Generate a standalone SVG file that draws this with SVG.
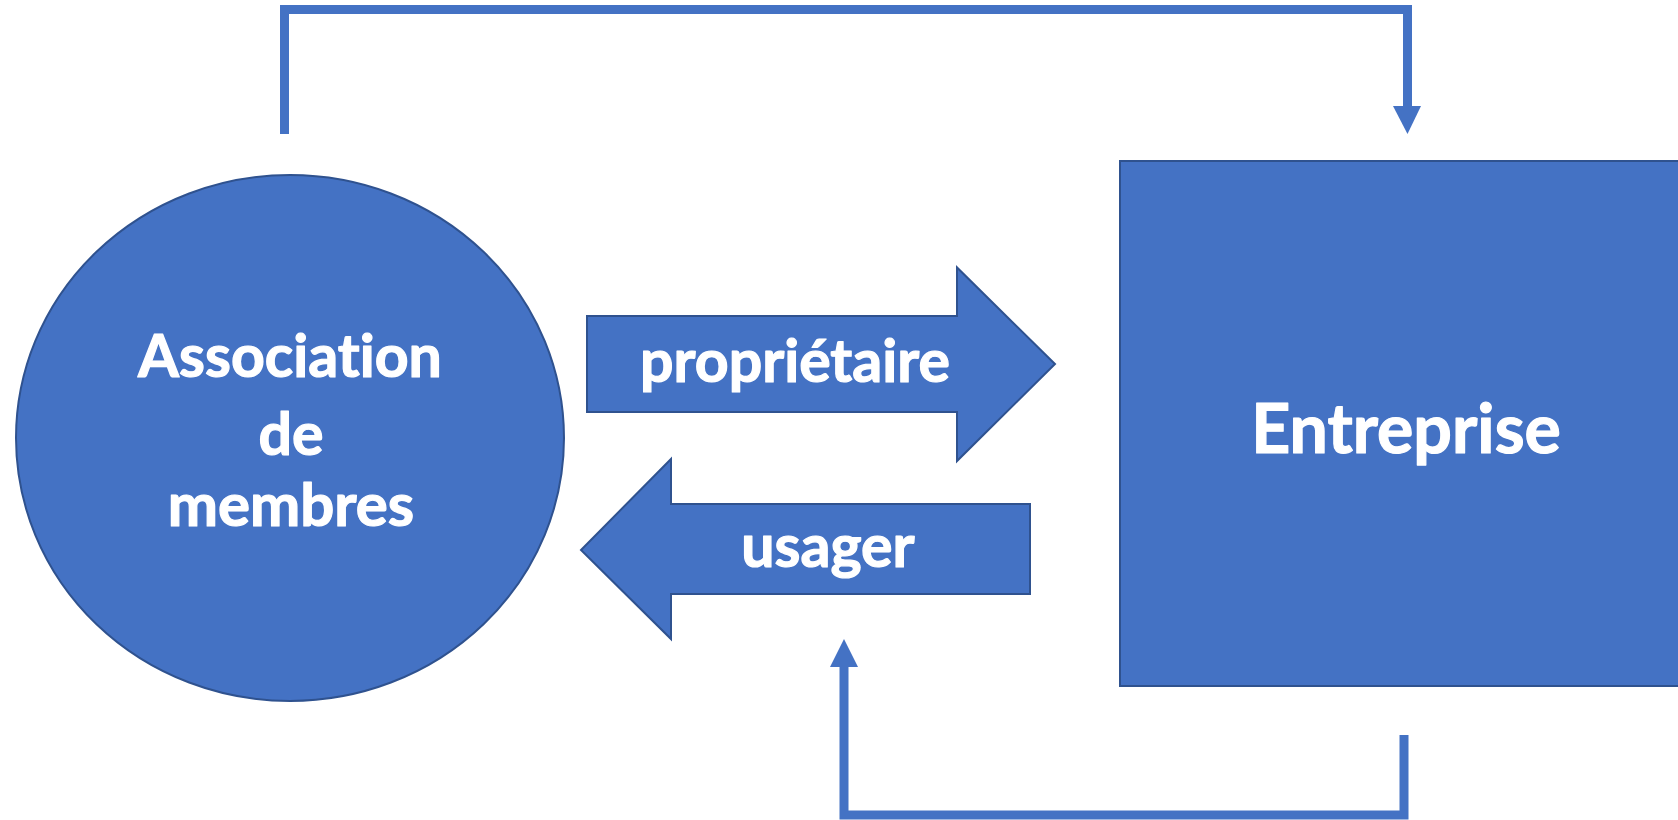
<svg xmlns="http://www.w3.org/2000/svg" width="1678" height="820" viewBox="0 0 1678 820">
<style>
.shape{fill:#4472C4;stroke:#2F528F;stroke-width:2}
.conn{fill:none;stroke:#4472C4;stroke-width:9}
.head{fill:#4472C4}
.lbl{font-family:Lato,"Open Sans","Liberation Sans",sans-serif;font-weight:bold;fill:#FFFFFF;stroke:#FFFFFF;stroke-width:1.2;stroke-linejoin:round;text-anchor:middle;font-variant-ligatures:none;font-feature-settings:"liga" 0,"dlig" 0}
</style>
<rect width="1678" height="820" fill="#FFFFFF"/>
<g id="connectors">
<polyline class="conn" points="284.5,134 284.5,9.5 1407.5,9.5 1407.5,108"/>
<polygon class="head" points="1393,106 1421,106 1407.5,134"/>
<polyline class="conn" points="1404,735 1404,815 844,815 844,664"/>
<polygon class="head" points="830,667 858,667 844,639"/>
</g>
<g id="association">
<ellipse class="shape" cx="290" cy="438" rx="274" ry="263"/>
<text class="lbl" x="290" y="377" font-size="59">Association</text>
<text class="lbl" x="291" y="455" font-size="59">de</text>
<text class="lbl" x="291" y="526" font-size="60">membres</text>
</g>
<g id="entreprise">
<rect class="shape" x="1120" y="161" width="600" height="525"/>
<text class="lbl" x="1406" y="453" font-size="68">Entreprise</text>
</g>
<g id="proprietaire">
<polygon class="shape" points="587,316 957,316 957,267.5 1055,364 957,461 957,412 587,412"/>
<text class="lbl" x="795" y="382" font-size="59">propriétaire</text>
</g>
<g id="usager">
<polygon class="shape" points="1030,504 671,504 671,459 581,550 671,639 671,594 1030,594"/>
<text class="lbl" x="828" y="567" font-size="59">usager</text>
</g>
</svg>
